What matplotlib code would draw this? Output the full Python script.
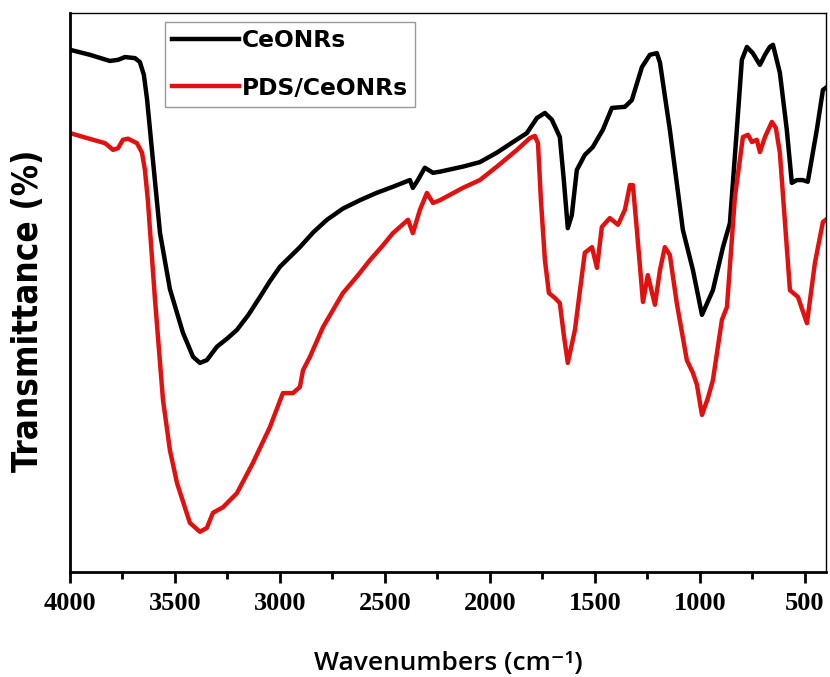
import matplotlib
matplotlib.use("Agg")
import matplotlib.pyplot as plt
from matplotlib.ticker import MultipleLocator

# FTIR spectra, transmittance in arbitrary % units
wn_ce = [4000, 3905, 3810, 3771, 3738, 3690, 3667, 3648, 3633, 3605, 3571, 3524,
         3462, 3414, 3381, 3348, 3300, 3250, 3205, 3150, 3095, 3048, 3000, 2905,
         2840, 2776, 2700, 2619, 2540, 2462, 2381, 2367, 2343, 2310, 2271, 2238,
         2129, 2048, 1967, 1890, 1824, 1776, 1738, 1705, 1667, 1648, 1629, 1610,
         1586, 1548, 1510, 1462, 1419, 1357, 1324, 1276, 1238, 1205, 1190, 1143,
         1081, 1033, 990, 938, 890, 857, 824, 800, 776, 748, 714, 690, 667, 652,
         619, 586, 562, 538, 510, 486, 443, 414, 400]
t_ce = [93.4, 92.5, 91.4, 91.6, 92.1, 91.9, 91.2, 88.9, 84.6, 73.7, 60.6, 50.6,
        42.8, 38.5, 37.4, 37.9, 40.3, 41.8, 43.3, 46.0, 49.2, 52.0, 54.6, 58.1,
        60.8, 63.0, 65.0, 66.5, 67.8, 68.9, 70.1, 68.7, 70.1, 72.3, 71.4, 71.6,
        72.5, 73.3, 75.0, 76.9, 78.5, 81.2, 82.1, 80.9, 77.8, 70.1, 61.5, 63.8,
        71.9, 74.6, 76.0, 79.1, 83.0, 83.2, 84.4, 90.3, 92.5, 92.8, 91.1, 79.1,
        61.2, 54.0, 46.0, 50.4, 58.1, 62.4, 79.1, 91.6, 93.9, 92.8, 90.7, 92.5,
        93.9, 94.3, 89.3, 79.1, 69.6, 70.1, 70.1, 69.8, 79.1, 86.2, 86.6]

wn_pds = [4000, 3890, 3833, 3795, 3771, 3748, 3724, 3681, 3657, 3643, 3629, 3595,
          3557, 3524, 3490, 3429, 3381, 3348, 3319, 3271, 3205, 3129, 3048, 2986,
          2938, 2905, 2890, 2857, 2795, 2700, 2630, 2571, 2510, 2462, 2390, 2367,
          2333, 2300, 2271, 2238, 2129, 2048, 1967, 1871, 1810, 1786, 1771, 1757,
          1738, 1719, 1690, 1667, 1648, 1629, 1595, 1571, 1548, 1514, 1490, 1467,
          1429, 1390, 1357, 1333, 1319, 1300, 1271, 1248, 1214, 1190, 1167, 1143,
          1110, 1062, 1033, 1014, 990, 962, 938, 895, 871, 833, 795, 771, 752,
          729, 714, 690, 657, 638, 619, 571, 533, 490, 452, 414, 400]
t_pds = [78.5, 77.3, 76.7, 75.5, 75.8, 77.3, 77.5, 76.7, 75.0, 71.9, 66.5, 48.7,
         30.8, 21.8, 15.9, 8.8, 7.2, 7.9, 10.6, 11.6, 14.1, 19.5, 25.9, 32.0,
         32.0, 33.1, 36.1, 38.5, 43.8, 49.9, 53.0, 55.8, 58.4, 60.6, 63.0, 60.6,
         64.8, 67.8, 66.0, 66.5, 68.7, 70.1, 72.5, 75.5, 77.6, 78.0, 76.7, 66.5,
         55.8, 49.9, 49.0, 48.1, 42.4, 37.4, 43.3, 50.4, 57.1, 58.1, 54.4, 61.7,
         63.3, 62.1, 64.8, 69.2, 69.2, 61.2, 48.3, 53.1, 47.8, 54.0, 58.1, 56.7,
         48.1, 37.9, 35.6, 33.5, 28.1, 31.1, 34.3, 45.1, 47.4, 67.1, 77.8, 78.2,
         76.9, 77.3, 75.1, 77.8, 80.5, 79.4, 75.0, 50.4, 49.2, 44.5, 55.3, 62.6,
         63.0]

fig = plt.figure(figsize=(8.3, 6.77), dpi=100)
ax = fig.add_axes([0.0843, 0.155, 0.9107, 0.826])

ax.plot(wn_ce, t_ce, color='black', lw=3.2, label='CeONRs', solid_joinstyle='round')
ax.plot(wn_pds, t_pds, color='#e31010', lw=3.2, label='PDS/CeONRs', solid_joinstyle='round')

ax.set_xlim(4000, 400)
ax.set_ylim(0, 100)
ax.xaxis.set_major_locator(MultipleLocator(500))
ax.xaxis.set_minor_locator(MultipleLocator(250))
ax.set_yticks([])
ax.tick_params(axis='x', which='major', direction='out', length=8, width=2,
               top=False, pad=6)
ax.tick_params(axis='x', which='minor', direction='out', length=5, width=2,
               top=False)
for lab in ax.get_xticklabels():
    lab.set_family('Liberation Serif')
    lab.set_fontweight('bold')
    lab.set_fontsize(19)

ax.spines['left'].set_linewidth(2)
ax.spines['bottom'].set_linewidth(2)
ax.spines['top'].set_linewidth(1)
ax.spines['right'].set_linewidth(1)

ax.set_xlabel('Wavenumbers (cm⁻¹)', family=['Open Sans', 'DejaVu Sans'],
              fontweight='semibold', fontsize=19, labelpad=26)
ax.set_ylabel('Transmittance (%)', family='DejaVu Sans', fontweight='bold',
              fontstretch='condensed', fontsize=25)
ax.yaxis.set_label_coords(-0.033, 0.467)

leg = ax.legend(loc='upper left', bbox_to_anchor=(0.199, 0.9675),
                bbox_transform=fig.transFigure, frameon=True, fancybox=False,
                edgecolor='gray', handlelength=2.85, handletextpad=0.15,
                labelspacing=1.05, borderpad=0.3, borderaxespad=0,
                prop={'family': 'DejaVu Sans', 'weight': 'bold', 'size': 16.8})
leg.get_frame().set_linewidth(1)

plt.savefig("out.png", dpi=100)
